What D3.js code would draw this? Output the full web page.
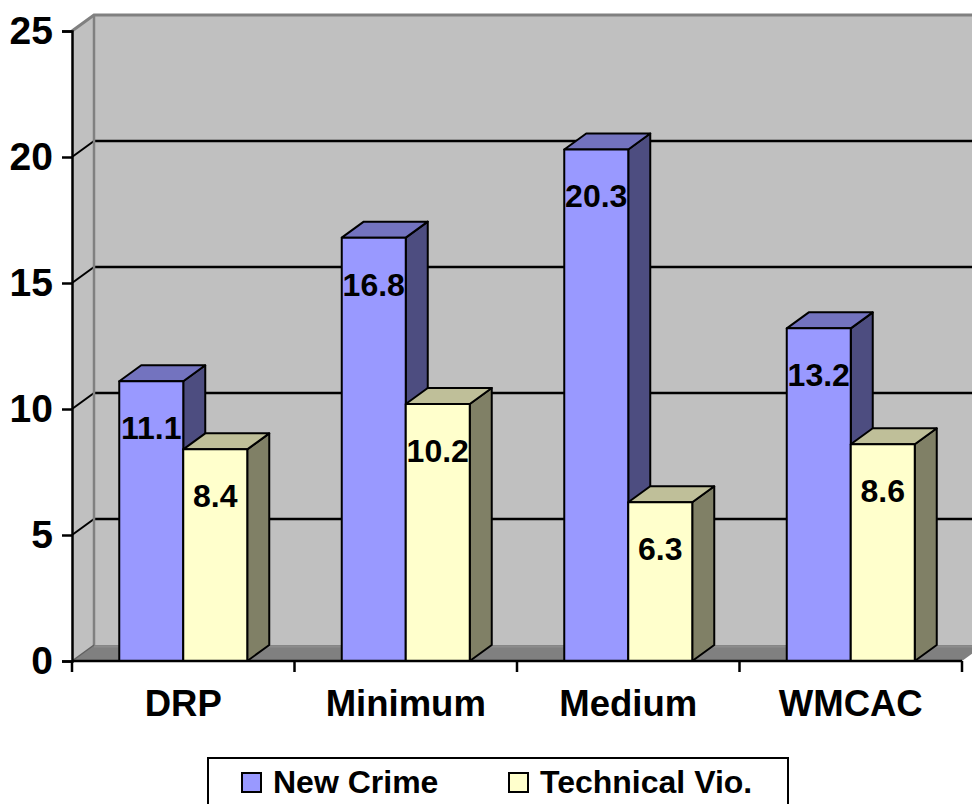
<!DOCTYPE html>
<html>
<head>
<meta charset="utf-8">
<script src="https://cdn.jsdelivr.net/npm/d3@7/dist/d3.min.js"></script>
<style>
  html, body { margin: 0; padding: 0; background: #fff; }
  svg { display: block; }
  text { font-family: "Liberation Sans", Arial, sans-serif; font-weight: bold; fill: #000; }
</style>
</head>
<body>
<svg id="chart" width="972" height="804"></svg>
<script>
// Data
const categories = ["DRP", "Minimum", "Medium", "WMCAC"];
const seriesNames = ["New Crime", "Technical Vio."];
const newCrime = [11.1, 16.8, 20.3, 13.2];
const technicalVio = [8.4, 10.2, 6.3, 8.6];
const yTicks = [0, 5, 10, 15, 20, 25];

(function () {
const seriesValues = [newCrime, technicalVio];
const seriesColors = [
  { front: "#9999FF", top: "#7373BF", side: "#4D4D80" },
  { front: "#FFFFCC", top: "#BFBF99", side: "#808066" }
];

const svg = d3.select("#chart");

// Plot geometry (front plane) and depth offset of the 3D box
const plotLeft = 72, plotRight = 962, plotBottom = 661, plotTop = 31;
const dx = 22, dy = -16;

const y = d3.scaleLinear().domain([0, 25]).range([plotBottom, plotTop]);
const x = d3.scaleBand().domain(categories).range([plotLeft, plotRight]).padding(0);
const barW = 64;
const inner = d3.scaleBand().domain(seriesNames)
  .range([(x.bandwidth() - 2 * barW) / 2, (x.bandwidth() + 2 * barW) / 2]).padding(0);

const pts = p => p.map(d => d.join(",")).join(" ");

// Back wall
svg.append("polygon")
  .attr("points", pts([[plotLeft + dx, y(25) + dy], [plotRight + dx + 20, y(25) + dy], [plotRight + dx + 20, y(0) + dy], [plotLeft + dx, y(0) + dy]]))
  .attr("fill", "#C0C0C0");
// Side wall
svg.append("polygon")
  .attr("points", pts([[plotLeft, y(25)], [plotLeft + dx, y(25) + dy], [plotLeft + dx, y(0) + dy], [plotLeft, y(0)]]))
  .attr("fill", "#C0C0C0");
// Floor
svg.append("polygon")
  .attr("points", pts([[plotLeft, y(0)], [plotRight, y(0)], [plotRight + dx, y(0) + dy], [plotLeft + dx, y(0) + dy]]))
  .attr("fill", "#808080");
svg.append("line")
  .attr("x1", plotLeft + dx).attr("x2", plotRight + dx + 20)
  .attr("y1", y(0) + dy + 1.5).attr("y2", y(0) + dy + 1.5)
  .attr("stroke", "#8C8C8C").attr("stroke-width", 2);

// Gridlines on back and side walls
const grid = yTicks.filter(v => v > 0 && v < 25);
svg.selectAll("line.gridBack").data(grid).enter().append("line")
  .attr("class", "gridBack")
  .attr("x1", plotLeft + dx).attr("x2", 972)
  .attr("y1", d => y(d) + dy).attr("y2", d => y(d) + dy)
  .attr("stroke", "#000").attr("stroke-width", 2.5);
svg.selectAll("line.gridSide").data(grid).enter().append("line")
  .attr("class", "gridSide")
  .attr("x1", plotLeft).attr("x2", plotLeft + dx)
  .attr("y1", d => y(d)).attr("y2", d => y(d) + dy)
  .attr("stroke", "#000").attr("stroke-width", 2);

// Wall edges
svg.append("polyline")
  .attr("points", pts([[plotLeft, y(25)], [plotLeft + dx, y(25) + dy], [972, y(25) + dy]]))
  .attr("fill", "none").attr("stroke", "#808080").attr("stroke-width", 3);
svg.append("line")
  .attr("x1", plotLeft + dx).attr("x2", plotLeft + dx)
  .attr("y1", y(25) + dy).attr("y2", y(0) + dy)
  .attr("stroke", "#808080").attr("stroke-width", 2.5);
svg.append("line")
  .attr("x1", plotLeft).attr("x2", plotLeft + dx)
  .attr("y1", y(0)).attr("y2", y(0) + dy)
  .attr("stroke", "#606060").attr("stroke-width", 1.5);

// Bars (drawn left to right so nearer faces cover farther ones)
const barsG = svg.append("g");
const labelsG = svg.append("g");
categories.forEach((cat, ci) => {
  seriesNames.forEach((s, si) => {
    const v = seriesValues[si][ci];
    const x0 = x(cat) + inner(s), x1 = x0 + barW;
    const yt = y(v), yb = y(0);
    const c = seriesColors[si];
    const g = barsG.append("g")
      .attr("stroke", "#000").attr("stroke-width", 2).attr("stroke-linejoin", "round");
    g.append("polygon").attr("fill", c.side)
      .attr("points", pts([[x1, yt], [x1 + dx, yt + dy], [x1 + dx, yb + dy], [x1, yb]]));
    g.append("polygon").attr("fill", c.top)
      .attr("points", pts([[x0, yt], [x1, yt], [x1 + dx, yt + dy], [x0 + dx, yt + dy]]));
    g.append("rect").attr("fill", c.front)
      .attr("x", x0).attr("y", yt).attr("width", barW).attr("height", yb - yt);
    labelsG.append("text")
      .attr("x", x0 + barW / 2).attr("y", yt + 58)
      .attr("text-anchor", "middle")
      .style("font-size", "32px")
      .text(v.toFixed(1));
  });
});

// Value axis
const yAxis = svg.append("g")
  .attr("transform", `translate(${plotLeft},0)`)
  .call(d3.axisLeft(y).tickValues(yTicks).tickSize(10).tickPadding(9).tickFormat(d3.format("d")));
yAxis.select(".domain").attr("stroke", "#000").attr("stroke-width", 2.5);
yAxis.selectAll(".tick line").attr("stroke", "#000").attr("stroke-width", 2.5);
yAxis.selectAll(".tick text")
  .style("font-family", "'Liberation Sans', Arial, sans-serif")
  .style("font-weight", "bold").style("font-size", "39px").attr("fill", "#000");

// Category axis: line, boundary ticks, centred labels
svg.append("line")
  .attr("x1", plotLeft).attr("x2", plotRight).attr("y1", plotBottom).attr("y2", plotBottom)
  .attr("stroke", "#000").attr("stroke-width", 2.5);
const bounds = categories.map(c => x(c)).concat([x(categories[categories.length - 1]) + x.bandwidth()]);
svg.selectAll("line.xtick").data(bounds).enter().append("line")
  .attr("class", "xtick")
  .attr("x1", d => d).attr("x2", d => d)
  .attr("y1", plotBottom).attr("y2", plotBottom + 11)
  .attr("stroke", "#000").attr("stroke-width", 2.5);
const xAxis = svg.append("g")
  .attr("transform", `translate(0,${plotBottom})`)
  .call(d3.axisBottom(x).tickSize(0).tickPadding(0));
xAxis.select(".domain").remove();
xAxis.selectAll(".tick text")
  .attr("dy", null).attr("y", 55)
  .style("font-family", "'Liberation Sans', Arial, sans-serif")
  .style("font-weight", "bold").style("font-size", "36.5px").attr("fill", "#000");

// Legend
const legend = svg.append("g");
legend.append("rect")
  .attr("x", 208).attr("y", 758).attr("width", 580).attr("height", 60)
  .attr("fill", "#fff").attr("stroke", "#000").attr("stroke-width", 2);
const legendX = [242, 509];
seriesNames.forEach((s, i) => {
  legend.append("rect")
    .attr("x", legendX[i]).attr("y", 773).attr("width", 19).attr("height", 19)
    .attr("fill", seriesColors[i].front).attr("stroke", "#000").attr("stroke-width", 2);
  legend.append("text")
    .attr("x", legendX[i] + 31).attr("y", 793)
    .style("font-size", "32px")
    .text(s);
});
})();
</script>
</body>
</html>
